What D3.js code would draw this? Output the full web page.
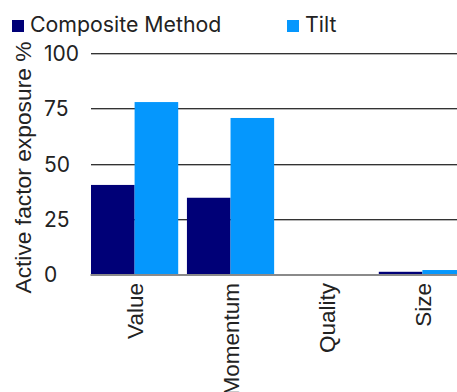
<!DOCTYPE html>
<html>
<head>
<meta charset="utf-8">
<script src="https://cdn.jsdelivr.net/npm/d3@7/dist/d3.min.js"></script>
<style>
  html, body { margin: 0; padding: 0; background: #fff; overflow: hidden; }
  svg { display: block; }
</style>
</head>
<body>
<svg id="chart" width="457" height="392"></svg>
<script>
// Active factor exposure by factor, two construction methods
const categories = ["Value", "Momentum", "Quality", "Size"];
const seriesNames = ["Composite Method", "Tilt"];
const compositeValues = [40.3, 34.5, 0, 1];
const tiltValues = [77.8, 70.6, 0, 1.8];
const yTicks = [0, 25, 50, 75, 100];
const colors = ["#000077", "#0597fd"];

const svg = d3.select("#chart");
const W = 457, H = 392;
const plot = { left: 91, right: 466, top: 53, bottom: 274 };

const x0 = d3.scaleBand().domain(categories)
  .range([plot.left, plot.right]).paddingInner(0.091).paddingOuter(0);
const x1 = d3.scaleBand().domain(seriesNames)
  .range([0, x0.bandwidth()]).padding(0);
const y = d3.scaleLinear().domain([0, 100]).range([plot.bottom, plot.top]);

// gridlines (dark line with a faint shadow under it)
const grid = svg.append("g");
yTicks.filter(t => t > 0).forEach(t => {
  const yy = Math.round(y(t));
  grid.append("line").attr("x1", plot.left).attr("x2", W + 20)
    .attr("y1", yy + 0.5).attr("y2", yy + 0.5)
    .attr("stroke", "#333").attr("stroke-width", 1);
  grid.append("line").attr("x1", plot.left).attr("x2", W + 20)
    .attr("y1", yy + 1.5).attr("y2", yy + 1.5)
    .attr("stroke", "#b5b5b5").attr("stroke-width", 1);
});

// bars
const rows = categories.map((c, i) => ({ cat: c, vals: [compositeValues[i], tiltValues[i]] }));
const groups = svg.append("g").selectAll("g").data(rows).join("g")
  .attr("transform", d => `translate(${x0(d.cat)},0)`);
groups.selectAll("rect")
  .data(d => d.vals.map((v, k) => ({ name: seriesNames[k], v, k })))
  .join("rect")
  .attr("x", d => x1(d.name))
  .attr("width", x1.bandwidth())
  .attr("y", d => y(d.v))
  .attr("height", d => y(0) - y(d.v))
  .attr("fill", d => colors[d.k]);

// baseline
svg.append("line").attr("x1", plot.left - 0.5).attr("x2", W + 20)
  .attr("y1", y(0) + 1).attr("y2", y(0) + 1)
  .attr("stroke", "#8a8a8a").attr("stroke-width", 2);

// y axis tick labels (left-aligned column)
const yAxis = d3.axisLeft(y).tickValues(yTicks).tickSize(0).tickPadding(0)
  .tickFormat(d3.format("d"));
const yg = svg.append("g").attr("transform", "translate(44,0)").call(yAxis);
yg.select(".domain").remove();
yg.selectAll("text").attr("font-family", "Inter, sans-serif")
  .attr("font-size", 21).attr("fill", "#222")
  .attr("text-anchor", "start").attr("x", 0).attr("dy", "0.36em");

// x axis category labels (rotated)
const xAxis = d3.axisBottom(x0).tickSize(0).tickPadding(0);
const xg = svg.append("g").attr("transform", `translate(0,${plot.bottom + 9})`).call(xAxis);
xg.select(".domain").remove();
xg.selectAll("text")
  .attr("font-family", "'Liberation Sans', Arial, sans-serif")
  .attr("font-size", 22.5).attr("fill", "#222")
  .attr("transform", "rotate(-90)")
  .attr("text-anchor", "end")
  .attr("x", 0).attr("y", 0).attr("dx", 0).attr("dy", "0.36em");

// y axis title
svg.append("text")
  .attr("transform", "translate(31,167.5) rotate(-90)")
  .attr("text-anchor", "middle")
  .attr("font-family", "'Liberation Sans', Arial, sans-serif")
  .attr("font-size", 22.8).attr("fill", "#222")
  .text("Active factor exposure %");

// legend
const legendX = [12, 287];
seriesNames.forEach((name, k) => {
  svg.append("rect").attr("x", legendX[k]).attr("y", 20)
    .attr("width", 12).attr("height", 12).attr("fill", colors[k]);
  svg.append("text").attr("x", legendX[k] + 18).attr("y", 32)
    .attr("font-family", "Inter, sans-serif").attr("font-size", 21.3)
    .attr("fill", "#222").text(name);
});
</script>
</body>
</html>
